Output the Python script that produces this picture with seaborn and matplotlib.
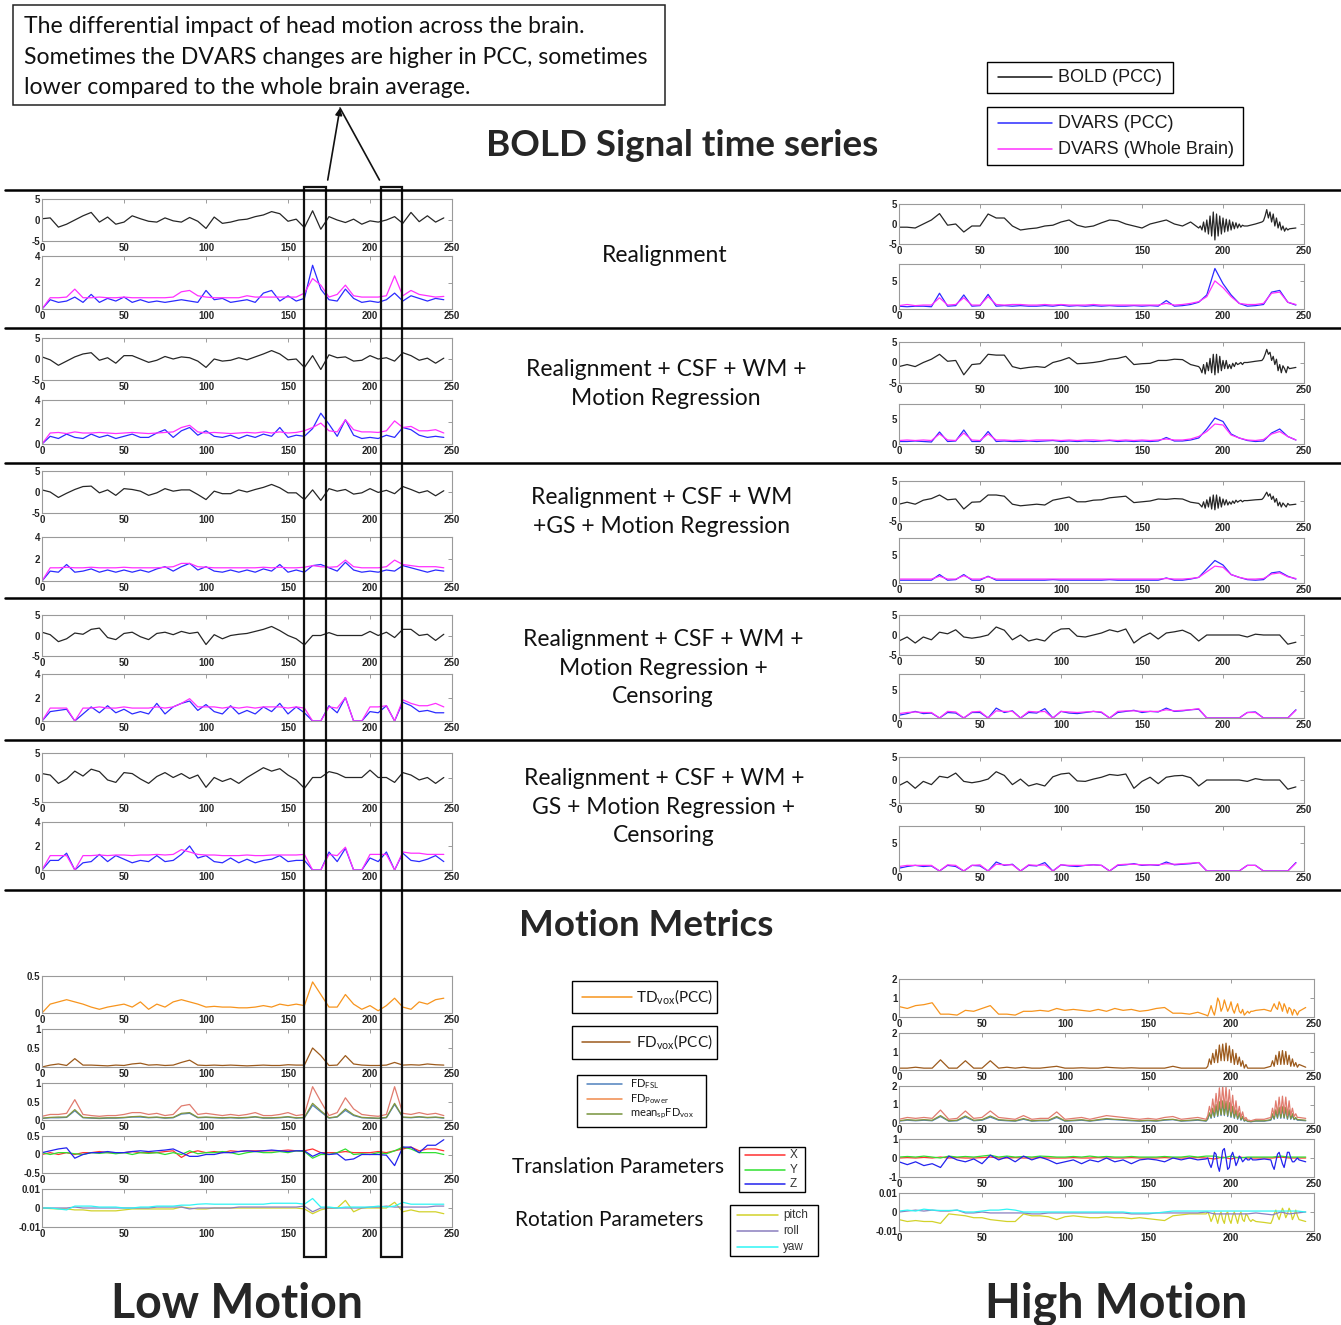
import matplotlib
matplotlib.use("Agg")
import matplotlib.pyplot as plt
import seaborn as sns
from matplotlib.lines import Line2D
from matplotlib.patches import Rectangle, FancyArrowPatch

W, H = 1341, 1325

sns.set_theme(style="white")
plt.rcParams["font.family"] = ["Lato", "DejaVu Sans"]
plt.rcParams["mathtext.fontset"] = "custom"
plt.rcParams["mathtext.rm"] = "Lato"
plt.rcParams["mathtext.it"] = "Lato:italic"
plt.rcParams["mathtext.bf"] = "Lato:bold"

# ---------------------------------------------------------------- sample grids
# volumes 0..245 every 5 volumes
t5 = list(range(0, 250, 5))
# finer grid through the two high-motion bursts
tf = list(range(0, 186, 5)) + list(range(186, 214)) + [215, 220] + list(range(224, 242)) + [245]

# ---------------------------------------------------------------- low motion subject
lo_bold_1 = [0.3, 0.5, -1.7, -1.0, 0.0, 1.0, 1.8, -0.5, 0.7, -1.0,
             -0.5, 1.0, 0.3, -0.3, -0.5, 0.5, -0.2, -0.5, 0.6, -0.3,
             -2.0, 0.7, -0.8, -0.5, 0.0, 0.2, 0.8, 1.2, 2.0, 1.5,
             -0.3, 0.2, -1.8, 2.2, -2.2, 0.8, 0.0, -0.6, 0.2, -1.0,
             -0.2, -0.5, 0.0, 0.8, -0.8, 1.8, -0.4, 1.0, -0.5, 0.5]
lo_pcc_1 = [0.0, 0.7, 0.5, 0.6, 0.9, 0.5, 1.1, 0.5, 0.8, 0.6,
            0.9, 0.5, 0.7, 0.5, 0.6, 0.5, 0.6, 0.7, 0.6, 0.5,
            1.4, 0.7, 0.8, 0.5, 0.6, 0.7, 0.5, 1.2, 1.4, 0.6,
            1.0, 0.6, 0.8, 3.3, 1.5, 0.7, 0.6, 1.5, 0.8, 0.5,
            0.6, 0.5, 0.7, 1.2, 0.6, 1.0, 0.8, 0.6, 0.8, 0.7]
lo_wb_1 = [0.0, 0.85, 0.85, 0.9, 1.5, 0.85, 0.85, 0.9, 0.85, 0.85,
           0.9, 0.85, 0.85, 0.85, 0.85, 0.85, 0.9, 1.3, 1.4, 1.0,
           0.9, 0.85, 0.85, 0.85, 0.85, 1.0, 0.9, 0.9, 0.9, 0.9,
           0.9, 0.9, 1.2, 2.3, 1.8, 0.9, 1.1, 1.8, 1.0, 0.9,
           0.9, 0.9, 1.0, 2.5, 1.0, 1.4, 1.1, 1.0, 0.9, 0.95]

lo_bold_2 = [0.5, -0.2, -1.5, -0.5, 0.5, 1.2, 1.5, -0.3, 0.3, -1.0,
             0.8, 0.8, 0.0, -0.8, -0.3, 0.6, 0.0, 0.5, 0.3, -0.5,
             -2.0, 0.0, -0.5, -0.3, 0.3, -0.2, 0.5, 1.2, 2.0, 1.2,
             -0.2, 0.0, -2.0, 0.8, -2.5, 1.0, 0.3, 0.5, -0.5, -0.3,
             0.8, 0.0, 0.3, -0.5, 1.5, 0.8, -0.3, 0.2, -1.0, 0.2]
lo_pcc_2 = [0.0, 0.7, 0.5, 0.9, 0.6, 0.5, 0.9, 0.6, 0.8, 0.5,
            0.7, 0.9, 0.6, 0.6, 1.0, 1.3, 0.6, 1.2, 1.5, 0.8,
            1.2, 0.7, 0.6, 0.8, 0.5, 0.8, 0.6, 0.9, 0.7, 1.5,
            0.6, 0.8, 0.7, 1.4, 2.8, 1.8, 0.7, 2.2, 0.8, 0.5,
            0.6, 0.5, 0.8, 0.6, 1.5, 1.3, 0.8, 0.6, 0.7, 0.6]
lo_wb_2 = [0.0, 1.0, 1.05, 0.95, 1.1, 1.0, 1.0, 1.05, 1.0, 0.95,
           1.0, 1.05, 1.0, 0.95, 1.0, 1.05, 1.1, 1.5, 1.7, 1.1,
           1.0, 1.05, 1.0, 0.95, 1.0, 1.05, 1.0, 1.1, 1.0, 1.1,
           1.0, 1.05, 1.2, 1.5, 1.9, 1.2, 1.1, 2.2, 1.3, 1.1,
           1.1, 1.05, 1.2, 2.1, 1.5, 1.6, 1.2, 1.2, 1.3, 1.0]

lo_bold_3 = [0.5, 0.0, -1.3, -0.3, 0.6, 1.3, 1.4, -0.2, 0.5, -0.8,
             0.8, 0.6, 0.2, -0.8, -0.2, 0.8, 0.2, 0.5, 0.5, -0.6,
             -1.8, 0.2, -0.4, -0.4, 0.5, 0.0, 0.6, 1.1, 1.8, 1.0,
             -0.2, -0.2, -1.8, 0.5, -2.0, 0.8, 0.2, 0.6, -0.5, -0.2,
             0.8, -0.1, 0.4, -0.4, 1.3, 0.6, -0.2, 0.3, -0.9, 0.3]
lo_pcc_3 = [0.0, 0.9, 0.8, 1.5, 0.8, 0.9, 1.1, 0.8, 1.0, 0.8,
            1.0, 0.8, 1.0, 0.8, 1.1, 1.3, 0.9, 1.3, 1.6, 1.0,
            1.3, 0.9, 0.8, 1.0, 0.8, 1.0, 0.8, 1.1, 0.9, 1.5,
            0.8, 1.0, 0.8, 1.4, 1.5, 1.2, 0.9, 1.7, 1.0, 0.8,
            0.9, 0.8, 1.0, 0.9, 1.4, 1.2, 1.0, 0.8, 1.0, 0.9]
lo_wb_3 = [0.0, 1.2, 1.2, 1.25, 1.2, 1.2, 1.25, 1.2, 1.2, 1.2,
           1.25, 1.2, 1.2, 1.2, 1.2, 1.25, 1.3, 1.6, 1.6, 1.3,
           1.25, 1.2, 1.2, 1.2, 1.2, 1.2, 1.2, 1.25, 1.2, 1.25,
           1.2, 1.2, 1.25, 1.4, 1.3, 1.25, 1.3, 1.9, 1.3, 1.2,
           1.2, 1.2, 1.3, 1.9, 1.5, 1.4, 1.3, 1.3, 1.3, 1.2]

lo_bold_4 = [0.8, 0.2, -1.5, -0.8, 0.6, 0.3, 1.5, 1.8, -0.5, -1.0,
             0.5, 0.8, -0.3, -1.0, 0.5, 0.8, 0.2, 1.0, 0.5, 0.8,
             -2.2, 0.2, -0.8, 0.0, 0.3, 0.5, 1.0, 1.5, 2.2, 1.2,
             0.0, -0.8, -2.3, 0.0, 0.0, 0.7, 0.0, 0.0, 0.0, 0.0,
             1.0, 0.0, 0.8, -0.5, 1.5, 1.5, 0.0, 0.3, -1.2, 0.3]
lo_pcc_4 = [0.0, 0.8, 0.9, 1.0, 0.0, 0.6, 1.2, 0.7, 1.3, 0.7,
            1.0, 0.6, 0.8, 0.6, 1.5, 0.6, 1.2, 1.5, 1.7, 0.9,
            1.4, 0.8, 0.6, 1.3, 0.6, 0.9, 0.6, 1.2, 0.8, 1.5,
            0.6, 1.2, 0.7, 0.0, 0.0, 1.3, 0.7, 2.0, 0.0, 0.0,
            0.8, 0.7, 1.3, 0.0, 1.6, 1.3, 0.8, 0.9, 0.7, 0.7]
lo_wb_4 = [0.0, 1.1, 1.1, 1.1, 0.0, 1.1, 1.1, 1.2, 1.1, 1.1,
           1.2, 1.1, 1.1, 1.1, 1.2, 1.1, 1.2, 1.5, 1.9, 1.2,
           1.2, 1.2, 1.1, 1.2, 1.1, 1.2, 1.1, 1.2, 1.2, 1.2,
           1.1, 1.2, 1.1, 0.0, 0.0, 1.2, 1.1, 2.0, 0.0, 0.0,
           1.2, 1.2, 1.3, 0.0, 1.8, 1.5, 1.3, 1.3, 1.5, 1.2]

lo_bold_5 = [0.8, 0.5, -1.2, -0.3, 1.3, 0.3, 1.7, 1.2, -0.5, -1.0,
             1.0, 0.8, -0.3, -1.2, 0.2, 1.0, 0.0, 0.8, -0.2, 0.5,
             -2.0, 0.0, -0.8, -0.2, -1.2, 0.0, 1.0, 2.0, 1.3, 1.8,
             0.5, -0.5, -2.2, 0.0, 0.0, 1.2, 0.8, 0.0, 0.0, 0.0,
             1.5, 0.0, 0.0, -1.0, 1.0, 0.5, -0.5, 0.0, -1.2, 0.0]
lo_pcc_5 = [0.0, 0.8, 0.8, 1.4, 0.0, 0.6, 0.7, 1.3, 0.7, 1.2,
            0.9, 0.6, 0.8, 0.7, 1.2, 0.7, 0.8, 1.3, 2.0, 1.0,
            1.2, 0.7, 0.6, 1.0, 0.6, 0.9, 0.6, 0.8, 0.9, 1.2,
            0.7, 0.8, 0.8, 0.0, 0.0, 1.5, 0.7, 1.8, 0.0, 0.0,
            1.0, 0.7, 1.5, 0.0, 1.4, 0.8, 0.7, 0.9, 1.2, 0.7]
lo_wb_5 = [0.0, 1.2, 1.2, 1.2, 0.0, 1.2, 1.2, 1.25, 1.2, 1.25,
           1.25, 1.2, 1.25, 1.25, 1.3, 1.25, 1.3, 1.7, 1.5, 1.3,
           1.25, 1.25, 1.2, 1.2, 1.2, 1.25, 1.2, 1.2, 1.25, 1.25,
           1.25, 1.25, 1.3, 0.0, 0.0, 1.3, 1.2, 1.9, 0.0, 0.0,
           1.3, 1.3, 1.3, 0.0, 1.5, 1.4, 1.4, 1.3, 1.3, 1.3]

lo_td = [0.0, 0.12, 0.15, 0.18, 0.15, 0.12, 0.08, 0.05, 0.08, 0.1,
         0.12, 0.08, 0.15, 0.05, 0.12, 0.08, 0.15, 0.18, 0.15, 0.12,
         0.08, 0.09, 0.08, 0.08, 0.07, 0.07, 0.08, 0.1, 0.08, 0.12,
         0.1, 0.12, 0.1, 0.42, 0.25, 0.08, 0.08, 0.25, 0.12, 0.05,
         0.1, 0.03, 0.1, 0.2, 0.08, 0.05, 0.15, 0.12, 0.18, 0.2]
lo_fd = [0.0, 0.05, 0.08, 0.04, 0.22, 0.05, 0.05, 0.04, 0.03, 0.05,
         0.04, 0.08, 0.1, 0.05, 0.06, 0.04, 0.05, 0.12, 0.18, 0.05,
         0.04, 0.05, 0.04, 0.05, 0.04, 0.03, 0.04, 0.05, 0.04, 0.04,
         0.06, 0.05, 0.05, 0.5, 0.3, 0.04, 0.05, 0.3, 0.08, 0.05,
         0.04, 0.04, 0.05, 0.12, 0.05, 0.06, 0.05, 0.08, 0.06, 0.05]
lo_fd_power = [0.1, 0.15, 0.15, 0.18, 0.55, 0.15, 0.12, 0.1, 0.12, 0.12,
               0.15, 0.2, 0.2, 0.15, 0.18, 0.12, 0.15, 0.38, 0.42, 0.15,
               0.18, 0.15, 0.12, 0.15, 0.12, 0.15, 0.2, 0.12, 0.12, 0.15,
               0.2, 0.12, 0.15, 0.9, 0.5, 0.12, 0.2, 0.6, 0.3, 0.15,
               0.12, 0.1, 0.15, 0.9, 0.18, 0.15, 0.2, 0.15, 0.18, 0.12]
lo_fd_fsl = [0.04, 0.06, 0.06, 0.07, 0.25, 0.06, 0.05, 0.04, 0.05, 0.05,
             0.06, 0.08, 0.08, 0.06, 0.07, 0.05, 0.06, 0.16, 0.18, 0.06,
             0.07, 0.06, 0.05, 0.06, 0.05, 0.06, 0.08, 0.05, 0.05, 0.06,
             0.08, 0.05, 0.06, 0.4, 0.22, 0.05, 0.08, 0.26, 0.12, 0.06,
             0.05, 0.04, 0.06, 0.42, 0.07, 0.06, 0.08, 0.06, 0.07, 0.05]
lo_fd_mean = [0.05, 0.07, 0.08, 0.08, 0.28, 0.07, 0.06, 0.05, 0.06, 0.06,
              0.07, 0.09, 0.1, 0.07, 0.08, 0.06, 0.07, 0.18, 0.2, 0.07,
              0.08, 0.07, 0.06, 0.07, 0.06, 0.07, 0.09, 0.06, 0.06, 0.07,
              0.09, 0.06, 0.07, 0.45, 0.25, 0.06, 0.09, 0.3, 0.14, 0.07,
              0.06, 0.05, 0.07, 0.45, 0.08, 0.07, 0.09, 0.07, 0.08, 0.06]

lo_tx = [0.0, 0.05, 0.0, 0.05, 0.0, 0.05, 0.05, 0.08, 0.05, 0.05,
         0.05, 0.08, 0.05, 0.05, 0.05, 0.08, 0.1, -0.08, 0.05, 0.1,
         0.05, 0.08, 0.05, 0.1, 0.08, 0.1, 0.1, 0.1, 0.1, 0.1,
         0.12, 0.1, 0.1, 0.15, 0.05, 0.05, 0.05, 0.08, 0.05, 0.05,
         0.05, 0.08, 0.05, 0.1, 0.15, 0.2, 0.1, 0.15, 0.15, 0.1]
lo_ty = [0.05, 0.0, 0.05, 0.05, 0.02, 0.0, 0.05, 0.03, 0.05, 0.02,
         0.05, 0.0, 0.05, 0.03, 0.05, 0.0, 0.05, 0.0, 0.1, 0.02,
         0.05, 0.05, 0.08, 0.05, 0.0, 0.05, 0.08, 0.05, 0.05, 0.08,
         0.05, 0.1, 0.08, -0.1, 0.0, 0.0, 0.05, 0.15, 0.0, 0.02,
         0.0, 0.05, 0.02, 0.1, 0.2, 0.15, 0.05, 0.05, 0.05, 0.0]
lo_tz = [0.05, 0.1, 0.15, 0.18, -0.1, 0.0, 0.05, 0.05, 0.08, 0.05,
         0.05, 0.08, 0.1, 0.08, 0.1, 0.12, 0.15, 0.05, -0.05, -0.05,
         0.0, 0.0, 0.05, 0.05, 0.08, 0.1, 0.08, 0.1, 0.12, 0.1,
         0.08, 0.1, 0.1, -0.05, 0.05, 0.0, 0.02, -0.15, -0.12, 0.0,
         0.0, 0.0, -0.02, -0.3, 0.2, 0.2, 0.05, 0.25, 0.25, 0.4]

lo_pitch = [0.0, -0.0003, -0.0005, -0.0005, -0.001, -0.001, -0.0015, -0.0015, -0.0015, -0.0015,
            -0.001, -0.0005, -0.0005, -0.0005, -0.0005, -0.0005, -0.0005, 0.0005, 0.0, -0.0005,
            -0.0005, 0.0, 0.0, 0.0, 0.0, 0.0, 0.0, 0.0, 0.0, 0.0,
            0.0, 0.0, -0.0005, -0.003, -0.001, 0.0, 0.0, 0.004, -0.002, 0.0,
            0.0, 0.0, 0.0, 0.003, -0.002, -0.001, -0.002, -0.002, -0.002, -0.003]
lo_roll = [0.0, 0.0, 0.0, 0.0, 0.0005, 0.0, 0.0, 0.0, 0.0, 0.0,
           0.0, 0.0, 0.0, 0.0, 0.0005, 0.0005, 0.0005, 0.0005, -0.0005, 0.0,
           0.0, 0.0, 0.0, 0.0, 0.0005, 0.0005, 0.0005, 0.0005, 0.0005, 0.0005,
           0.0005, 0.0005, 0.001, -0.002, 0.0, 0.0, 0.0, 0.0, 0.0, 0.0,
           0.0005, 0.0005, 0.001, 0.0005, 0.0005, 0.0005, 0.0005, 0.0005, 0.001, 0.001]
lo_yaw = [0.0, 0.0, -0.0005, -0.001, 0.001, 0.001, 0.001, 0.0005, 0.0005, 0.0005,
          0.0, 0.0, 0.0005, 0.0005, 0.001, 0.001, 0.001, 0.0015, 0.0015, 0.002,
          0.0022, 0.002, 0.002, 0.002, 0.002, 0.002, 0.002, 0.002, 0.0025, 0.0025,
          0.0025, 0.0025, 0.002, 0.005, 0.0005, 0.0005, 0.0, 0.0005, 0.0005, 0.0005,
          0.0005, 0.001, 0.0005, 0.001, 0.003, 0.002, 0.002, 0.002, 0.002, 0.002]

# ---------------------------------------------------------------- high motion subject
# series on the tf grid: 38 coarse values, 28 values for volumes 186-213,
# volumes 215 and 220, 18 values for volumes 224-241, volume 245
hi_bold_1 = [-0.8, -0.8, -1.0, 0.0, 1.0, 2.6, -0.3, 0.0, -2.0, -0.5,
             -0.5, 2.5, 1.5, 1.5, -0.5, -1.5, -1.2, -1.0, -0.5, -0.3,
             0.5, 1.0, -0.3, -0.8, -0.5, 0.3, 1.0, 0.8, 0.0, -0.5,
             -1.0, 0.0, 0.5, 1.0, 0.0, -0.5, 0.5, -1.0,
             -0.5, -1.5, 0.5, -2.0, 1.0, -2.5, 2.0, -3.0, 3.0, -4.0,
             2.5, -3.0, 2.0, -2.5, 1.5, -2.0, 1.2, -1.8, 1.0, -1.5,
             0.5, -1.2, 0.3, -1.0, 0.0, -0.8, -0.3, -0.5,
             -0.5, 0.0,
             0.5, 0.8, 2.0, 3.6, 1.5, 3.0, 0.5, 2.5, -0.5, 1.5,
             -1.0, 0.5, -1.5, -0.5, -1.8, -1.0, -1.5, -1.2,
             -1.0]
hi_pcc_1 = [0.5, 0.4, 0.5, 0.5, 0.4, 2.8, 0.5, 0.6, 2.5, 0.5,
            0.6, 2.6, 0.5, 0.6, 0.5, 0.6, 0.5, 0.5, 0.6, 0.5,
            0.7, 0.5, 0.6, 0.5, 0.6, 0.5, 0.6, 0.5, 0.5, 0.6,
            0.5, 0.6, 0.5, 1.5, 0.5, 0.6, 0.8, 1.2, 2.5, 7.2,
            4.5, 2.5, 1.0, 0.5, 0.6, 0.8, 3.0, 3.3, 1.2, 0.7]
hi_wb_1 = [0.6, 0.8, 0.6, 0.7, 0.7, 2.0, 0.7, 0.8, 2.0, 0.7,
           0.7, 2.2, 0.8, 0.7, 0.8, 0.8, 0.7, 0.7, 0.8, 0.7,
           0.8, 0.7, 0.7, 0.7, 0.8, 0.7, 0.7, 0.7, 0.7, 0.7,
           0.7, 0.7, 0.7, 1.0, 0.7, 0.8, 1.0, 1.3, 2.2, 5.0,
           3.8, 2.2, 1.0, 0.8, 0.8, 1.0, 2.8, 3.0, 1.2, 0.8]

hi_bold_2 = [-1.0, -0.5, -1.0, 0.0, 0.8, 2.0, 0.3, 0.5, -3.0, -0.5,
             -0.3, 2.0, 1.8, 1.8, -1.0, -1.5, -1.2, -1.0, -1.2, 0.0,
             0.5, 1.2, -0.3, -0.2, 0.0, 0.3, 0.8, 1.0, 1.5, -0.5,
             -0.3, -0.2, 0.5, 0.5, 0.8, 0.7, -0.5, -1.0,
             -1.5, -2.5, -0.5, -2.8, 0.0, -2.0, 1.0, -2.5, 2.0, -3.0,
             2.0, -2.5, 1.5, -2.0, 0.5, -1.5, 0.5, -1.5, -0.5, -1.5,
             -0.2, -1.0, 0.0, -0.5, -0.3, 0.0, -0.5, 0.0,
             0.0, 0.3,
             0.5, 1.0, 2.0, 3.2, 2.0, 2.5, 0.5, 1.5, -0.5, 0.8,
             -2.0, -0.5, -2.5, -0.8, -1.5, -2.5, -1.0, -1.5,
             -1.2]
hi_pcc_2 = [0.5, 0.5, 0.6, 0.5, 0.4, 2.4, 0.5, 0.6, 2.8, 0.5,
            0.5, 2.5, 0.5, 0.6, 0.5, 0.5, 0.6, 0.5, 0.6, 0.7,
            0.5, 0.6, 0.5, 0.6, 0.5, 0.6, 0.7, 0.5, 0.6, 0.5,
            0.6, 0.5, 0.6, 1.3, 0.6, 0.6, 0.8, 1.2, 3.0, 5.2,
            4.5, 2.0, 1.2, 0.7, 0.5, 0.6, 2.2, 3.0, 1.5, 0.8]
hi_wb_2 = [0.7, 0.8, 0.7, 0.8, 0.7, 2.0, 0.8, 0.7, 2.2, 0.8,
           0.7, 2.0, 0.8, 0.8, 0.7, 0.8, 0.7, 0.8, 0.8, 0.8,
           0.7, 0.8, 0.7, 0.8, 0.8, 0.7, 0.8, 0.7, 0.8, 0.7,
           0.8, 0.7, 0.8, 1.0, 0.8, 0.8, 1.0, 1.5, 2.5, 4.0,
           3.8, 1.8, 1.2, 0.8, 0.7, 0.9, 2.0, 2.5, 1.5, 0.8]

hi_bold_3 = [-0.8, -0.3, -0.8, 0.2, 0.6, 1.5, 0.3, 0.5, -2.0, -0.3,
             -0.2, 1.5, 1.5, 1.2, -0.8, -1.2, -1.0, -0.8, -1.0, 0.2,
             0.6, 1.0, -0.2, -0.2, 0.2, 0.3, 0.8, 1.0, 1.2, -0.4,
             -0.2, 0.0, 0.5, 0.4, 0.6, 0.5, -0.3, -0.6,
             -1.0, -1.5, -0.2, -1.8, 0.3, -1.5, 1.0, -2.0, 1.5, -2.2,
             1.5, -1.8, 1.0, -1.5, 0.5, -1.0, 0.3, -1.0, -0.2, -0.8,
             0.0, -0.6, 0.2, -0.3, 0.0, 0.2, -0.2, 0.1,
             0.1, 0.3,
             0.4, 0.8, 1.5, 2.2, 1.2, 1.8, 0.4, 1.2, -0.3, 0.6,
             -1.2, -0.3, -1.5, -0.5, -1.0, -1.5, -0.6, -1.0,
             -0.8]
hi_pcc_3 = [0.5, 0.5, 0.5, 0.5, 0.5, 1.5, 0.5, 0.6, 1.5, 0.5,
            0.5, 1.2, 0.5, 0.5, 0.5, 0.5, 0.5, 0.5, 0.5, 0.6,
            0.5, 0.5, 0.5, 0.5, 0.5, 0.5, 0.6, 0.5, 0.5, 0.5,
            0.5, 0.5, 0.5, 0.9, 0.5, 0.5, 0.7, 1.0, 2.5, 4.0,
            3.2, 1.5, 1.0, 0.6, 0.5, 0.6, 1.8, 2.0, 1.2, 0.7]
hi_wb_3 = [0.7, 0.7, 0.7, 0.7, 0.7, 1.2, 0.7, 0.7, 1.3, 0.7,
           0.7, 1.1, 0.7, 0.7, 0.7, 0.7, 0.7, 0.7, 0.7, 0.7,
           0.7, 0.7, 0.7, 0.7, 0.7, 0.7, 0.7, 0.7, 0.7, 0.7,
           0.7, 0.7, 0.7, 0.8, 0.7, 0.7, 0.8, 1.0, 2.0, 3.0,
           2.8, 1.5, 1.0, 0.7, 0.7, 0.8, 1.6, 1.8, 1.1, 0.8]

hi_bold_4 = [-1.5, -0.5, -2.0, -0.5, -1.2, 0.7, 0.3, 1.3, -0.5, -0.8,
             -0.5, 0.0, 2.0, 1.2, -1.2, 0.0, -1.5, -1.0, -1.5, 0.5,
             1.5, 1.6, -0.3, -0.5, 0.0, 0.5, 1.3, 0.8, 1.5, -2.0,
             -0.5, 0.5, -1.0, 0.5, 0.8, 1.2, 0.3, -1.5, 0.0, 0.0,
             0.0, 0.0, 0.0, -0.5, 0.2, 0.0, 0.0, 0.0, -2.3, -1.8]
hi_pcc_4 = [0.5, 0.8, 1.2, 0.8, 0.9, 0.0, 1.0, 0.9, 0.0, 1.0,
            1.0, 0.0, 1.8, 1.0, 1.3, 0.0, 1.0, 0.9, 1.7, 0.0,
            1.2, 0.9, 0.8, 1.0, 1.2, 1.0, 0.0, 1.0, 1.2, 1.4,
            1.0, 1.2, 1.1, 1.8, 1.2, 1.3, 1.5, 1.6, 0.0, 0.0,
            0.0, 0.0, 0.0, 1.0, 1.1, 0.0, 0.0, 0.0, 0.0, 1.5]
hi_wb_4 = [0.8, 1.0, 1.1, 1.0, 1.0, 0.0, 1.2, 1.1, 0.0, 1.1,
           1.2, 0.0, 1.3, 1.2, 1.2, 0.0, 1.2, 1.1, 1.2, 0.0,
           1.2, 1.1, 1.0, 1.1, 1.2, 1.1, 0.0, 1.2, 1.3, 1.3,
           1.2, 1.2, 1.2, 1.5, 1.3, 1.4, 1.5, 1.7, 0.0, 0.0,
           0.0, 0.0, 0.0, 1.0, 1.0, 0.0, 0.0, 0.0, 0.0, 1.4]

hi_bold_5 = [-1.2, -0.3, -1.8, -0.3, -1.0, 0.8, 0.5, 1.5, -0.3, -0.6,
             -0.3, 0.2, 1.8, 1.0, -1.0, 0.2, -1.3, -0.8, -1.3, 0.7,
             1.3, 1.5, -0.2, -0.3, 0.2, 0.6, 1.2, 1.0, 1.3, -1.8,
             -0.3, 0.6, -0.8, 0.6, 0.9, 1.0, 0.5, -1.3, 0.0, 0.0,
             0.0, 0.0, 0.0, -0.3, 0.3, 0.0, 0.0, 0.0, -2.0, -1.5]
hi_pcc_5 = [0.5, 0.8, 1.0, 0.8, 0.9, 0.0, 1.0, 0.8, 0.0, 1.0,
            0.9, 0.0, 1.6, 1.0, 1.2, 0.0, 1.0, 0.9, 1.5, 0.0,
            1.1, 0.9, 0.8, 1.0, 1.1, 1.0, 0.0, 1.0, 1.1, 1.3,
            1.0, 1.1, 1.0, 1.6, 1.1, 1.2, 1.3, 1.5, 0.0, 0.0,
            0.0, 0.0, 0.0, 1.0, 1.0, 0.0, 0.0, 0.0, 0.0, 1.5]
hi_wb_5 = [0.8, 1.0, 1.0, 1.0, 1.0, 0.0, 1.1, 1.0, 0.0, 1.0,
           1.1, 0.0, 1.2, 1.1, 1.1, 0.0, 1.1, 1.0, 1.1, 0.0,
           1.1, 1.0, 1.0, 1.0, 1.1, 1.0, 0.0, 1.1, 1.2, 1.2,
           1.1, 1.1, 1.1, 1.3, 1.2, 1.3, 1.4, 1.5, 0.0, 0.0,
           0.0, 0.0, 0.0, 1.0, 1.0, 0.0, 0.0, 0.0, 0.0, 1.4]

hi_td = [0.55, 0.45, 0.6, 0.65, 0.75, 0.15, 0.15, 0.1, 0.35, 0.3,
         0.45, 0.6, 0.15, 0.15, 0.1, 0.3, 0.3, 0.35, 0.3, 0.45,
         0.35, 0.4, 0.35, 0.3, 0.4, 0.3, 0.45, 0.35, 0.4, 0.3,
         0.35, 0.45, 0.5, 0.2, 0.2, 0.15, 0.25, 0.1,
         0.05, 0.3, 0.6, 0.3, 0.1, 0.5, 1.0, 0.8, 0.3, 0.5,
         0.9, 0.6, 0.3, 0.5, 0.8, 0.4, 0.2, 0.5, 0.7, 0.3,
         0.2, 0.4, 0.1, 0.2, 0.3, 0.2, 0.3, 0.3,
         0.35, 0.4,
         0.3, 0.5, 0.7, 0.5, 0.4, 0.8, 0.6, 0.3, 0.7, 0.5,
         0.2, 0.5, 0.4, 0.1, 0.4, 0.3, 0.1, 0.3,
         0.5]
hi_fd = [0.1, 0.1, 0.15, 0.1, 0.1, 0.55, 0.1, 0.1, 0.5, 0.1,
         0.1, 0.5, 0.1, 0.15, 0.1, 0.15, 0.1, 0.1, 0.15, 0.2,
         0.1, 0.1, 0.12, 0.1, 0.1, 0.15, 0.12, 0.1, 0.12, 0.1,
         0.1, 0.1, 0.1, 0.2, 0.1, 0.1, 0.1, 0.1,
         0.2, 0.6, 0.3, 0.9, 0.4, 1.1, 0.4, 1.35, 0.5, 1.4,
         0.5, 1.45, 0.5, 1.3, 0.4, 1.1, 0.3, 0.9, 0.3, 0.7,
         0.2, 0.5, 0.1, 0.3, 0.1, 0.1, 0.1, 0.1,
         0.1, 0.1,
         0.2, 0.5, 0.2, 0.8, 0.3, 1.0, 0.3, 1.05, 0.3, 1.0,
         0.3, 0.8, 0.2, 0.6, 0.2, 0.4, 0.15, 0.3,
         0.15]
hi_fd_power = [0.2, 0.3, 0.25, 0.3, 0.25, 0.7, 0.2, 0.25, 0.65, 0.25,
               0.3, 0.65, 0.3, 0.25, 0.2, 0.4, 0.2, 0.25, 0.25, 0.6,
               0.2, 0.25, 0.3, 0.2, 0.3, 0.4, 0.35, 0.3, 0.25, 0.2,
               0.25, 0.2, 0.3, 0.35, 0.2, 0.25, 0.3, 0.2,
               0.4, 0.9, 0.5, 1.3, 0.6, 1.6, 0.7, 1.9, 0.8, 2.0,
               0.8, 1.95, 0.7, 1.8, 0.6, 1.5, 0.5, 1.2, 0.4, 0.9,
               0.3, 0.6, 0.2, 0.3, 0.15, 0.15, 0.12, 0.15,
               0.2, 0.2,
               0.3, 0.8, 0.4, 1.2, 0.5, 1.4, 0.5, 1.45, 0.5, 1.4,
               0.4, 1.2, 0.4, 0.8, 0.35, 0.5, 0.3, 0.3,
               0.25]
hi_fd_fsl = [0.1, 0.15, 0.12, 0.15, 0.12, 0.35, 0.1, 0.12, 0.32, 0.12,
             0.15, 0.32, 0.15, 0.12, 0.1, 0.2, 0.1, 0.12, 0.12, 0.3,
             0.1, 0.12, 0.15, 0.1, 0.15, 0.2, 0.18, 0.15, 0.12, 0.1,
             0.12, 0.1, 0.15, 0.18, 0.1, 0.12, 0.15, 0.1,
             0.2, 0.5, 0.25, 0.7, 0.3, 0.9, 0.35, 1.0, 0.4, 1.1,
             0.4, 1.05, 0.35, 1.0, 0.3, 0.8, 0.25, 0.65, 0.2, 0.5,
             0.15, 0.3, 0.1, 0.15, 0.08, 0.08, 0.06, 0.08,
             0.1, 0.1,
             0.15, 0.4, 0.2, 0.65, 0.25, 0.75, 0.25, 0.8, 0.25, 0.75,
             0.2, 0.65, 0.2, 0.4, 0.18, 0.25, 0.15, 0.15,
             0.12]
hi_fd_mean = [0.12, 0.18, 0.15, 0.18, 0.15, 0.4, 0.12, 0.15, 0.38, 0.15,
              0.18, 0.38, 0.18, 0.15, 0.12, 0.24, 0.12, 0.15, 0.15, 0.35,
              0.12, 0.15, 0.18, 0.12, 0.18, 0.24, 0.2, 0.18, 0.15, 0.12,
              0.15, 0.12, 0.18, 0.2, 0.12, 0.15, 0.18, 0.12,
              0.24, 0.55, 0.3, 0.8, 0.36, 1.0, 0.4, 1.15, 0.45, 1.2,
              0.45, 1.18, 0.4, 1.1, 0.36, 0.9, 0.3, 0.72, 0.24, 0.55,
              0.18, 0.36, 0.12, 0.18, 0.1, 0.1, 0.08, 0.1,
              0.12, 0.12,
              0.18, 0.5, 0.24, 0.72, 0.3, 0.85, 0.3, 0.88, 0.3, 0.85,
              0.24, 0.72, 0.24, 0.5, 0.2, 0.3, 0.18, 0.18,
              0.15]

hi_tx = [0.0, 0.02, 0.0, 0.03, 0.0, 0.05, 0.0, 0.02, 0.0, 0.0,
         0.02, 0.05, 0.0, 0.0, 0.02, 0.0, 0.0, 0.02, 0.0, 0.0,
         0.0, 0.02, 0.0, 0.0, 0.02, 0.0, 0.0, 0.0, 0.02, 0.0,
         0.0, 0.0, 0.02, 0.0, 0.0, 0.0, 0.02, 0.0, -0.05, 0.05,
         -0.05, 0.05, 0.0, 0.0, 0.0, 0.0, 0.05, 0.0, 0.0, 0.0]
hi_ty = [0.05, 0.08, 0.05, 0.1, 0.05, 0.0, 0.1, 0.05, 0.08, 0.05,
         0.1, 0.15, 0.05, 0.1, 0.05, 0.08, 0.05, 0.1, 0.08, 0.05,
         0.05, 0.08, 0.05, 0.1, 0.05, 0.08, 0.05, 0.05, 0.08, 0.05,
         0.05, 0.05, 0.08, 0.05, 0.05, 0.1, 0.05, 0.1, 0.1, 0.0,
         0.1, 0.0, 0.05, 0.05, 0.05, 0.05, 0.1, 0.05, 0.05, 0.05]
hi_tz = [-0.2, -0.35, -0.2, -0.4, -0.3, -0.5, 0.1, -0.1, -0.2, -0.05,
         -0.3, 0.15, -0.1, 0.05, -0.2, 0.1, -0.1, 0.05, -0.1, -0.3,
         -0.2, -0.1, -0.3, -0.1, -0.2, 0.0, -0.2, -0.1, -0.3, -0.1,
         -0.05, -0.1, -0.2, 0.0, -0.1, 0.0, -0.1, -0.05,
         0.0, -0.3, -0.5, -0.2, 0.3, 0.2, -0.4, -0.7, -0.2, 0.4,
         0.5, 0.0, -0.6, -0.5, 0.1, 0.3, 0.0, -0.4, -0.2, 0.1,
         0.0, -0.2, -0.1, 0.0, -0.1, -0.1, 0.0, -0.1,
         -0.1, -0.05,
         -0.1, -0.4, -0.6, -0.2, 0.2, 0.3, 0.0, -0.3, -0.5, -0.1,
         0.3, 0.3, 0.0, -0.2, -0.2, -0.1, 0.0, -0.1,
         -0.2]

hi_pitch = [-0.004, -0.005, -0.0045, -0.005, -0.005, -0.006, -0.001, -0.0015, -0.002, -0.003,
            -0.003, -0.004, -0.0045, -0.005, -0.005, -0.001, -0.002, -0.002, -0.0025, -0.004,
            -0.0025, -0.002, -0.0025, -0.003, -0.003, -0.0025, -0.003, -0.003, -0.0035, -0.003,
            -0.0035, -0.004, -0.0045, -0.002, -0.0015, -0.001, -0.001, -0.001,
            0.0, -0.002, -0.005, -0.003, 0.0, -0.003, -0.006, -0.002, 0.0, -0.004,
            -0.006, -0.001, 0.0, -0.004, -0.006, -0.002, 0.0, -0.003, -0.006, -0.002,
            0.0, -0.004, -0.005, -0.001, -0.002, -0.004, -0.005, -0.004,
            -0.005, -0.0055,
            -0.006, -0.004, -0.001, 0.001, -0.002, -0.004, -0.001, 0.002, 0.0, -0.003,
            -0.001, 0.002, 0.0, -0.004, -0.002, 0.001, -0.002, -0.004,
            -0.005]
hi_roll = [0.0, 0.0005, 0.001, 0.0005, 0.001, 0.0005, 0.0005, 0.001, -0.0005, -0.0005,
           0.0, -0.0005, -0.0005, -0.0005, -0.0005, -0.0005, -0.001, -0.001, -0.0005, -0.0005,
           -0.0005, -0.0005, -0.0005, -0.0005, -0.0005, -0.0005, -0.0005, -0.0005, -0.001, -0.001,
           -0.001, -0.0005, -0.0005, -0.0005, -0.0005, -0.0005, -0.0005, 0.0, -0.001, -0.001,
           -0.001, -0.001, -0.001, -0.0005, -0.001, -0.0015, 0.0, -0.001, -0.0005, 0.0]
hi_yaw = [0.0005, 0.001, 0.0005, 0.0015, 0.001, 0.0008, 0.0008, 0.001, 0.0, 0.0,
          0.0005, 0.001, 0.001, 0.0015, 0.001, 0.0, 0.0, 0.0, 0.0, 0.0,
          0.0, 0.0, 0.0, 0.0, 0.0, 0.0, 0.0, 0.0, -0.0005, -0.0005,
          -0.0005, -0.0005, 0.0, 0.0005, 0.0005, 0.0005, 0.0005, 0.0005, 0.0005, 0.0005,
          0.0005, 0.0005, 0.0005, 0.0005, 0.0005, 0.0005, 0.0005, 0.0005, 0.0005, 0.0]

# highlighted volume windows (volumes)
windows = [(160, 173), (207, 219.5)]

step_labels = ["Realignment",
               "Realignment + CSF + WM +\nMotion Regression",
               "Realignment + CSF + WM\n+GS + Motion Regression",
               "Realignment + CSF + WM +\nMotion Regression +\nCensoring",
               "Realignment + CSF + WM +\nGS + Motion Regression +\nCensoring"]

# ---------------------------------------------------------------- colours
C_BOLD = "#262626"
C_PCC = "#2b2bff"
C_WB = "#ff30ff"
C_TD = "#f7941d"
C_FD = "#9c5a1c"
C_FSL = "#4f81bd"
C_POWER = "#e07b6e"
C_MEAN = "#82953c"
C_X, C_Y, C_Z = "#ff3030", "#30e030", "#2222ee"
C_PITCH, C_ROLL, C_YAW = "#d2d22a", "#8a7fbf", "#2ff5f5"

# ---------------------------------------------------------------- figure helpers
fig = plt.figure(figsize=(W / 100, H / 100), dpi=100)
fig.patch.set_facecolor("white")


def fx(x):
    return x / W


def fy(y):
    return 1 - y / H


def make_axes(x0, x1, y0, y1):
    return fig.add_axes([fx(x0), fy(y1), (x1 - x0) / W, (y1 - y0) / H])


def trace(ax, t, v, color, lw=0.9):
    if len(t) != len(v):
        raise ValueError(f"{len(v)} values for {len(t)} volumes")
    sns.lineplot(x=t, y=v, ax=ax, color=color, linewidth=lw,
                 estimator=None, sort=False, legend=False)


def style_axes(ax, ylim, yticks):
    ax.set_xlim(0, 250)
    ax.set_ylim(*ylim)
    ax.set_xticks([0, 50, 100, 150, 200, 250])
    ax.set_xticklabels(["0", "50", "100", "150", "200", "250"])
    ax.set_yticks(yticks)
    ax.set_yticklabels([f"{v:g}" for v in yticks])
    ax.set_xlabel("")
    ax.set_ylabel("")
    ax.set_facecolor("white")
    ax.tick_params(direction="in", length=3, width=0.6, color="#8c8c8c",
                   top=True, right=True, labelsize=7, pad=1.2)
    for lab in ax.get_xticklabels() + ax.get_yticklabels():
        lab.set_fontweight("bold")
        lab.set_family("Liberation Sans")
    for s in ax.spines.values():
        s.set_color("#9a9a9a")
        s.set_linewidth(0.8)


def hline(y, x0=5, x1=W, lw=1.8):
    fig.add_artist(Line2D([fx(x0), fx(x1)], [fy(y), fy(y)], color="black",
                          lw=lw, transform=fig.transFigure))


def legend_box(box, items, lx, tx, fs, family, lw=1.1, color="#1a1a1a"):
    x0, y0, x1, y1 = box
    fig.add_artist(Rectangle((fx(x0), fy(y1)), (x1 - x0) / W, (y1 - y0) / H,
                             fill=False, ec="black", lw=1.0,
                             transform=fig.transFigure))
    for c, label, y in items:
        fig.add_artist(Line2D([fx(lx[0]), fx(lx[1])], [fy(y), fy(y)], color=c,
                              lw=lw, transform=fig.transFigure))
        fig.text(fx(tx), fy(y), label, fontsize=fs, va="center", ha="left",
                 family=family, color=color)


# ---------------------------------------------------------------- BOLD / DVARS panels
rows_lo = [(199, 241, 256, 309), (338, 380, 400, 444), (471, 513, 537, 581),
           (615, 656, 674, 721), (753, 802, 822, 870)]
rows_hi = [(204, 244, 264, 309), (342, 383, 404, 444), (481, 521, 538, 583),
           (615, 655, 674, 718), (757, 803, 826, 871)]

lo_sets = [(lo_bold_1, lo_pcc_1, lo_wb_1), (lo_bold_2, lo_pcc_2, lo_wb_2),
           (lo_bold_3, lo_pcc_3, lo_wb_3), (lo_bold_4, lo_pcc_4, lo_wb_4),
           (lo_bold_5, lo_pcc_5, lo_wb_5)]
hi_sets = [((tf, hi_bold_1), hi_pcc_1, hi_wb_1), ((tf, hi_bold_2), hi_pcc_2, hi_wb_2),
           ((tf, hi_bold_3), hi_pcc_3, hi_wb_3), ((t5, hi_bold_4), hi_pcc_4, hi_wb_4),
           ((t5, hi_bold_5), hi_pcc_5, hi_wb_5)]

ref_ax = None
for (yb0, yb1, yd0, yd1), (bold, pcc, wb) in zip(rows_lo, lo_sets):
    axb = make_axes(42, 452, yb0, yb1)
    trace(axb, t5, bold, C_BOLD)
    style_axes(axb, (-5, 5), [-5, 0, 5])
    axd = make_axes(42, 452, yd0, yd1)
    trace(axd, t5, pcc, C_PCC)
    trace(axd, t5, wb, C_WB)
    style_axes(axd, (0, 4), [0, 2, 4])
    if ref_ax is None:
        ref_ax = axb

for (yb0, yb1, yd0, yd1), ((tb, bold), pcc, wb) in zip(rows_hi, hi_sets):
    axb = make_axes(899, 1304, yb0, yb1)
    trace(axb, tb, bold, C_BOLD)
    style_axes(axb, (-5, 5), [-5, 0, 5])
    axd = make_axes(899, 1304, yd0, yd1)
    trace(axd, t5, pcc, C_PCC)
    trace(axd, t5, wb, C_WB)
    style_axes(axd, (0, 8), [0, 5])

# ---------------------------------------------------------------- motion metrics
mot_lo = [(976, 1013), (1029, 1067), (1083, 1120), (1136, 1173), (1189, 1227)]
mot_hi = [(979, 1017), (1033, 1070), (1086, 1123), (1139, 1177), (1193, 1231)]

ax = make_axes(42, 452, *mot_lo[0]); trace(ax, t5, lo_td, C_TD); style_axes(ax, (0, 0.5), [0, 0.5])
ax = make_axes(42, 452, *mot_lo[1]); trace(ax, t5, lo_fd, C_FD); style_axes(ax, (0, 1), [0, 0.5, 1])
ax = make_axes(42, 452, *mot_lo[2])
trace(ax, t5, lo_fd_fsl, C_FSL); trace(ax, t5, lo_fd_mean, C_MEAN); trace(ax, t5, lo_fd_power, C_POWER)
style_axes(ax, (0, 1), [0, 0.5, 1])
ax = make_axes(42, 452, *mot_lo[3])
trace(ax, t5, lo_tx, C_X); trace(ax, t5, lo_ty, C_Y); trace(ax, t5, lo_tz, C_Z)
style_axes(ax, (-0.5, 0.5), [-0.5, 0, 0.5])
ax = make_axes(42, 452, *mot_lo[4])
trace(ax, t5, lo_pitch, C_PITCH); trace(ax, t5, lo_roll, C_ROLL); trace(ax, t5, lo_yaw, C_YAW)
style_axes(ax, (-0.01, 0.01), [-0.01, 0, 0.01])

ax = make_axes(899, 1314, *mot_hi[0]); trace(ax, tf, hi_td, C_TD); style_axes(ax, (0, 2), [0, 1, 2])
ax = make_axes(899, 1314, *mot_hi[1]); trace(ax, tf, hi_fd, C_FD); style_axes(ax, (0, 2), [0, 1, 2])
ax = make_axes(899, 1314, *mot_hi[2])
trace(ax, tf, hi_fd_fsl, C_FSL); trace(ax, tf, hi_fd_mean, C_MEAN); trace(ax, tf, hi_fd_power, C_POWER)
style_axes(ax, (0, 2), [0, 1, 2])
ax = make_axes(899, 1314, *mot_hi[3])
trace(ax, t5, hi_tx, C_X); trace(ax, t5, hi_ty, C_Y); trace(ax, tf, hi_tz, C_Z)
style_axes(ax, (-1, 1), [-1, 0, 1])
ax = make_axes(899, 1314, *mot_hi[4])
trace(ax, tf, hi_pitch, C_PITCH); trace(ax, t5, hi_roll, C_ROLL); trace(ax, t5, hi_yaw, C_YAW)
style_axes(ax, (-0.01, 0.01), [-0.01, 0, 0.01])

# ---------------------------------------------------------------- section rules and titles
for y in (190, 328, 463, 598, 740, 890):
    hline(y)

fig.text(fx(682), fy(146), "BOLD Signal time series", fontsize=26.5, fontweight="bold",
         ha="center", va="center")
fig.text(fx(646), fy(926), "Motion Metrics", fontsize=26.5, fontweight="bold",
         ha="center", va="center")
fig.text(fx(237), fy(1304), "Low Motion", fontsize=33.5, fontweight="bold",
         ha="center", va="center")
fig.text(fx(1116), fy(1304), "High Motion", fontsize=33.5, fontweight="bold",
         ha="center", va="center")

for label, (cx, cy) in zip(step_labels, [(665, 256), (666, 384), (662, 512),
                                         (663, 668), (664, 807)]):
    fig.text(fx(cx), fy(cy), label, fontsize=16.5, ha="center", va="center",
             multialignment="center", linespacing=1.46, color="#111111")

# note box with arrows to the highlighted windows
fig.add_artist(Rectangle((fx(13), fy(105)), (665 - 13) / W, (105 - 5) / H, fill=False,
                         ec="#222222", lw=1.1, transform=fig.transFigure))
fig.text(fx(24), fy(57),
         "The differential impact of head motion across the brain.\n"
         "Sometimes the DVARS changes are higher in PCC, sometimes\n"
         "lower compared to the whole brain average.",
         fontsize=16.6, ha="left", va="center", linespacing=1.55, color="#111111")

to_fig = fig.transFigure.inverted()


def fig_x(t):
    return to_fig.transform(ref_ax.transData.transform((t, 0)))[0]


for a, b in windows:
    x0, x1 = fig_x(a), fig_x(b)
    fig.add_artist(Rectangle((x0, fy(1257)), x1 - x0, fy(187) - fy(1257), fill=False,
                             ec="#111111", lw=1.6, transform=fig.transFigure))

tip = (fx(340), fy(108))
fig.add_artist(FancyArrowPatch((fig_x(windows[0][1]) + 2 / W, fy(180)), tip,
                               arrowstyle="-|>", mutation_scale=10, lw=1.2,
                               color="#111111", transform=fig.transFigure,
                               shrinkA=0, shrinkB=0))
fig.add_artist(FancyArrowPatch((fig_x(windows[1][0]) - 2 / W, fy(180)), tip,
                               arrowstyle="-", lw=1.2, color="#111111",
                               transform=fig.transFigure, shrinkA=0, shrinkB=0))

# ---------------------------------------------------------------- legends
legend_box((987, 62, 1173, 93), [("#111111", "BOLD (PCC)", 77)], (998, 1052), 1058,
           13, "Liberation Sans")
legend_box((987, 107, 1243, 165), [(C_PCC, "DVARS (PCC)", 123),
                                   (C_WB, "DVARS (Whole Brain)", 149)],
           (998, 1052), 1058, 13, "Liberation Sans")

legend_box((572, 981, 717, 1013), [(C_TD, r"TD$_{\mathrm{vox}}$(PCC)", 997)],
           (582, 632), 636, 11, "Lato")
legend_box((572, 1026, 717, 1059), [(C_FD, r"FD$_{\mathrm{vox}}$(PCC)", 1042)],
           (582, 630), 636, 11, "Lato")
legend_box((577, 1075, 706, 1127), [(C_FSL, r"FD$_{\mathrm{FSL}}$", 1084),
                                    ("#f08a4b", r"FD$_{\mathrm{Power}}$", 1099),
                                    ("#77933c", r"mean$_{\mathrm{sp}}$FD$_{\mathrm{vox}}$", 1114)],
           (587, 622), 630, 8, "Lato")

fig.text(fx(512), fy(1167), "Translation Parameters", fontsize=15, ha="left",
         va="center", color="#111111")
fig.text(fx(515), fy(1220), "Rotation Parameters", fontsize=15, ha="left",
         va="center", color="#111111")
legend_box((739, 1147, 805, 1192), [(C_X, "X", 1155), (C_Y, "Y", 1170), (C_Z, "Z", 1184)],
           (745, 785), 790, 8.5, "Liberation Sans", color="#333333")
legend_box((730, 1205, 818, 1256), [(C_PITCH, "pitch", 1215), (C_ROLL, "roll", 1231),
                                    (C_YAW, "yaw", 1247)],
           (737, 778), 783, 8.5, "Liberation Sans", color="#333333")

fig.savefig("out.png", dpi=100, facecolor="white")
